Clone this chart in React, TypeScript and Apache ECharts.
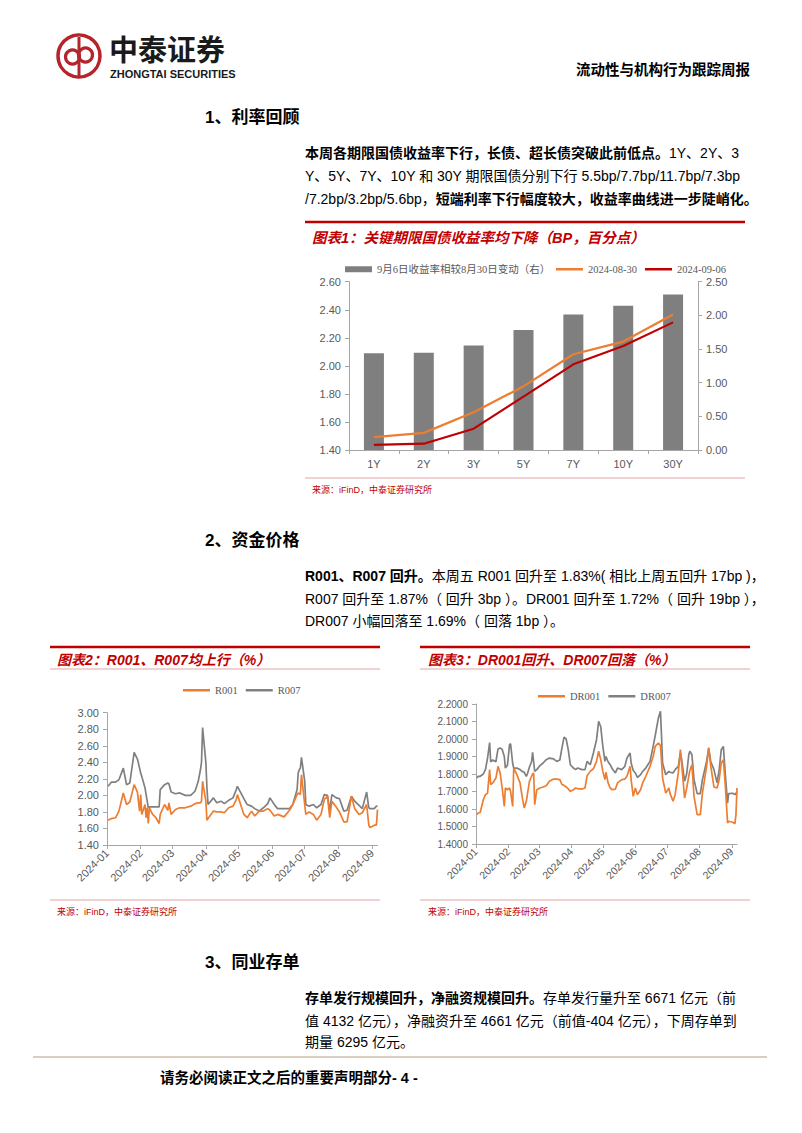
import React, { useEffect, useRef } from "react";
import * as echarts from "echarts";

// ---------- Chart 1 data ----------
const tenors = ["1Y", "2Y", "3Y", "5Y", "7Y", "10Y", "30Y"];
const barRight = [1.437, 1.445, 1.552, 1.781, 2.011, 2.141, 2.31];
const yield0830 = [1.492, 1.522, 1.669, 1.854, 2.083, 2.173, 2.366];
const yield0906 = [1.437, 1.445, 1.552, 1.781, 2.011, 2.141, 2.31];
const leftTicks = { min: 1.4, max: 2.6, interval: 0.2 };
const rightTicks = { min: 0, max: 2.5, interval: 0.5 };

// ---------- Chart 2 data (R001 / R007) ----------
const repoDates = [
  "01-02", "01-05", "01-09", "01-12", "01-16", "01-19", "01-22", "01-26", "01-29", "01-31",
  "02-01", "02-02", "02-05", "02-06", "02-07", "02-08", "02-09", "02-12", "02-15", "02-18",
  "02-19", "02-23", "02-26", "02-27", "02-29", "03-04", "03-08", "03-13", "03-18", "03-22",
  "03-25", "03-27", "03-28", "03-29", "04-01", "04-02", "04-03", "04-08", "04-11", "04-15",
  "04-18", "04-22", "04-26", "04-29", "04-30", "05-06", "05-09", "05-13", "05-16", "05-20",
  "05-24", "05-28", "05-30", "06-03", "06-06", "06-12", "06-17", "06-20", "06-24", "06-25",
  "06-26", "06-27", "06-28", "07-01", "07-02", "07-05", "07-09", "07-12", "07-16", "07-19",
  "07-22", "07-24", "07-26", "07-30", "08-02", "08-06", "08-09", "08-13", "08-16", "08-20",
  "08-23", "08-27", "08-29", "08-30", "09-03", "09-05", "09-06",
];
const r001 = [
  1.70, 1.72, 1.73, 1.81, 2.03, 1.89, 1.92, 2.13, 2.04, 1.81,
  2.01, 1.77, 1.89, 1.73, 1.85, 1.66, 1.85, 1.77, 1.73, 1.66,
  1.77, 1.89, 1.82, 1.91, 1.77, 1.83, 1.85, 1.85, 1.87, 1.90,
  1.91, 1.91, 1.93, 2.17, 1.93, 1.70, 1.72, 1.81, 1.80, 1.80,
  1.79, 1.85, 1.87, 1.95, 2.01, 1.77, 1.73, 1.81, 1.75, 1.81,
  1.81, 1.84, 1.82, 1.75, 1.77, 1.74, 1.82, 1.89, 2.01, 2.03,
  2.02, 2.01, 2.25, 1.89, 1.77, 1.80, 1.77, 1.70, 1.77, 1.95,
  1.99, 1.73, 1.93, 1.86, 1.80, 1.68, 1.68, 1.99, 1.84, 1.77,
  1.79, 1.89, 1.64, 1.61, 1.64, 1.64, 1.83,
];
const r007 = [
  2.11, 2.16, 2.16, 2.19, 2.33, 2.13, 2.15, 2.52, 2.44, 2.33,
  2.27, 2.23, 2.09, 2.01, 1.93, 1.85, 1.86, 1.86, 1.86, 1.86,
  2.07, 2.13, 2.15, 2.14, 2.04, 2.02, 2.03, 2.00, 2.00, 2.05,
  2.17, 2.31, 2.40, 2.82, 2.40, 2.09, 1.89, 1.97, 1.91, 1.93,
  1.90, 1.94, 1.97, 2.07, 2.11, 1.96, 1.89, 1.87, 1.84, 1.81,
  1.85, 1.90, 1.97, 1.89, 1.84, 1.84, 1.84, 1.89, 2.07, 2.27,
  2.31, 2.33, 2.46, 2.17, 1.89, 1.87, 1.89, 1.85, 1.89, 2.01,
  2.00, 1.81, 2.01, 1.97, 1.96, 1.81, 1.82, 1.99, 1.93, 1.88,
  1.84, 2.04, 1.85, 1.84, 1.84, 1.87, 1.87,
];
const repoTicks = { min: 1.4, max: 3.0, interval: 0.2 };

// ---------- Chart 3 data (DR001 / DR007) ----------
const drDates = [
  "01-02", "01-03", "01-05", "01-08", "01-10", "01-12", "01-14", "01-15", "01-17", "01-20",
  "01-22", "01-24", "01-26", "01-28", "01-29", "01-31", "02-02", "02-03", "02-05", "02-06",
  "02-09", "02-12", "02-14", "02-16", "02-18", "02-19", "02-21", "02-23", "02-24", "02-25",
  "02-26", "02-28", "03-02", "03-05", "03-08", "03-11", "03-15", "03-18", "03-21", "03-23",
  "03-25", "03-27", "03-29", "03-31", "04-03", "04-05", "04-07", "04-11", "04-14", "04-16",
  "04-19", "04-22", "04-25", "04-27", "04-29", "05-01", "05-03", "05-04", "05-06", "05-08",
  "05-10", "05-13", "05-15", "05-19", "05-22", "05-24", "05-27", "05-28", "05-30", "06-01",
  "06-03", "06-06", "06-08", "06-11", "06-15", "06-18", "06-20", "06-23", "06-25", "06-26",
  "06-27", "06-30", "07-03", "07-04", "07-07", "07-09", "07-12", "07-14", "07-15", "07-18",
  "07-20", "07-22", "07-23", "07-25", "07-27", "07-30", "08-02", "08-04", "08-08", "08-10",
  "08-12", "08-15", "08-18", "08-20", "08-22", "08-24", "08-26", "08-28", "08-29", "09-02",
  "09-04", "09-05", "09-06",
];
const dr001 = [
  1.568, 1.577, 1.58, 1.653, 1.682, 1.69, 1.825, 1.739, 1.749, 1.777,
  1.844, 1.806, 1.72, 1.615, 1.72, 1.71, 1.72, 1.70, 1.615, 1.834,
  1.796, 1.749, 1.672, 1.606, 1.644, 1.682, 1.758, 1.787, 1.80, 1.806,
  1.625, 1.71, 1.72, 1.726, 1.733, 1.758, 1.771, 1.771, 1.768, 1.74,
  1.735, 1.726, 1.715, 1.701, 1.71, 1.72, 1.716, 1.714, 1.72, 1.79,
  1.815, 1.83, 1.872, 1.93, 1.882, 1.815, 1.768, 1.81, 1.749, 1.72,
  1.71, 1.714, 1.749, 1.768, 1.771, 1.787, 1.844, 1.768, 1.672, 1.72,
  1.682, 1.71, 1.749, 1.787, 1.844, 1.90, 1.958, 1.977, 1.962, 1.872,
  1.777, 1.691, 1.72, 1.691, 1.644, 1.682, 1.806, 1.939, 1.872, 1.663,
  1.72, 1.787, 1.82, 1.853, 1.672, 1.568, 1.568, 1.691, 1.844, 1.949,
  1.844, 1.726, 1.72, 1.768, 1.863, 1.882, 1.72, 1.52, 1.53, 1.524,
  1.516, 1.568, 1.72,
];
const dr007 = [
  1.777, 1.787, 1.787, 1.80, 1.825, 1.89, 1.98, 1.87, 1.88, 1.87,
  1.943, 1.949, 1.94, 1.90, 1.834, 1.85, 1.968, 1.973, 1.86, 1.834,
  1.834, 1.825, 1.815, 1.81, 1.787, 1.80, 1.84, 1.87, 1.924, 1.87,
  1.815, 1.825, 1.848, 1.863, 1.882, 1.891, 1.886, 1.872, 1.88, 1.949,
  2.011, 2.00, 1.939, 1.853, 1.834, 1.825, 1.834, 1.825, 1.825, 1.872,
  1.853, 1.92, 1.996, 2.101, 2.07, 1.958, 1.872, 1.90, 1.87, 1.853,
  1.83, 1.806, 1.834, 1.825, 1.844, 1.891, 1.92, 1.863, 1.82, 1.806,
  1.78, 1.796, 1.815, 1.834, 1.872, 1.958, 2.02, 2.12, 2.158, 2.015,
  1.863, 1.796, 1.815, 1.81, 1.806, 1.825, 1.844, 1.92, 1.891, 1.758,
  1.80, 1.91, 1.93, 1.91, 1.768, 1.688, 1.688, 1.768, 1.872, 1.949,
  1.87, 1.825, 1.749, 1.825, 1.939, 1.958, 1.787, 1.634, 1.688, 1.69,
  1.682, 1.69, 1.70,
];
const drTicks = { min: 1.4, max: 2.2, interval: 0.1 };

const yearPrefix = "2024-";
const axisStart = "01-01";
const axisEnd = "09-06";
const monthStarts = ["01-01", "02-01", "03-01", "04-01", "05-01", "06-01", "07-01", "08-01", "09-01"];

// ---------- Texts ----------
const barName = "9月6日收益率相较8月30日变动（右）";
const sourceText = "来源：iFinD，中泰证券研究所";

const SANS = "'Liberation Sans', Arial, 'Noto Sans CJK SC', sans-serif";
const SERIF = "'Liberation Serif', 'Times New Roman', 'Noto Sans CJK SC', serif";
const RED = "#C00000";
const PINK = "#E3A3A3";
const AXIS = "#A6A6A6";
const LABEL = "#595959";
const ORANGE = "#ED7D31";
const GRAY = "#808080";
const DARKRED = "#C00000";

const ts = (md: string) => new Date(`${yearPrefix}${md}T00:00:00`).getTime();
const fmtMonth = (v: number) => {
  const d = new Date(v);
  return `${d.getFullYear()}-${String(d.getMonth() + 1).padStart(2, "0")}`;
};

function txt(x: number, y: number, text: string, style: any = {}) {
  return {
    type: "text",
    x,
    y,
    silent: true,
    style: {
      text,
      fontFamily: SANS,
      fontSize: 14,
      fill: "#000",
      verticalAlign: "middle",
      align: "left",
      ...style,
    },
  };
}
function rich(x: number, y: number, parts: [string, string][], size = 14) {
  const text = parts.map(([k, s]) => `{${k}|${s}}`).join("");
  return {
    type: "text",
    x,
    y,
    silent: true,
    style: {
      text,
      verticalAlign: "middle",
      align: "left",
      rich: {
        b: { fontFamily: SANS, fontSize: size, fontWeight: "bold", fill: "#000" },
        n: { fontFamily: SANS, fontSize: size, fill: "#000" },
      },
    },
  };
}
function hline(x1: number, x2: number, y: number, stroke: string, w: number) {
  return { type: "line", silent: true, shape: { x1, y1: y, x2, y2: y }, style: { stroke, lineWidth: w } };
}

function timeXAxis(gridIndex: number, fontSize: number) {
  return {
    type: "value",
    gridIndex,
    min: ts(axisStart),
    max: ts(axisEnd),
    axisLine: { show: true, lineStyle: { color: AXIS, width: 1 } },
    axisTick: { show: true, length: 4, lineStyle: { color: AXIS }, customValues: monthStarts.map(ts) },
    axisLabel: {
      rotate: 45,
      margin: 6,
      fontSize,
      color: LABEL,
      fontFamily: SANS,
      customValues: monthStarts.map(ts),
      formatter: (v: number) => fmtMonth(v),
    },
    splitLine: { show: false },
  };
}
function valYAxis(gridIndex: number, t: any, decimals: number, fontSize: number, position = "left") {
  return {
    type: "value",
    gridIndex,
    position,
    min: t.min,
    max: t.max,
    interval: t.interval,
    axisLine: { show: true, lineStyle: { color: AXIS, width: 1 } },
    axisTick: { show: true, length: 4, lineStyle: { color: AXIS } },
    axisLabel: {
      fontSize,
      color: LABEL,
      fontFamily: SANS,
      margin: 8,
      formatter: (v: number) => v.toFixed(decimals),
    },
    splitLine: { show: false },
  };
}

export default function App() {
  const ref = useRef<HTMLDivElement>(null);
  useEffect(() => {
    if (!ref.current) return;
    const chart = echarts.init(ref.current, undefined, { renderer: "svg" });

    const elements: any[] = [
      // logo
      { type: "circle", silent: true, shape: { cx: 79, cy: 56, r: 21 }, style: { fill: "none", stroke: "#B5232B", lineWidth: 3.5 } },
      { type: "circle", silent: true, shape: { cx: 72.5, cy: 57, r: 7 }, style: { fill: "none", stroke: "#B5232B", lineWidth: 3.2 } },
      { type: "circle", silent: true, shape: { cx: 85.5, cy: 55, r: 7 }, style: { fill: "none", stroke: "#B5232B", lineWidth: 3.2 } },
      { type: "line", silent: true, shape: { x1: 79, y1: 37, x2: 79, y2: 76 }, style: { stroke: "#B5232B", lineWidth: 3 } },
      txt(109, 48, "中泰证券", { fontSize: 29, lineHeight: 29, fontWeight: "bold", fill: "#1a1a1a", fontFamily: "'Noto Sans CJK SC', sans-serif" }),
      txt(110, 74, "ZHONGTAI SECURITIES", { fontSize: 11, lineHeight: 11, fontWeight: "bold", fill: "#1a1a1a" }),
      txt(750, 70, "流动性与机构行为跟踪周报", { fontSize: 14.5, fontWeight: "bold", align: "right" }),

      // section 1
      txt(205, 117, "1、利率回顾", { fontSize: 17, fontWeight: "bold" }),
      rich(305, 153, [["b", "本周各期限国债收益率下行，长债、超长债突破此前低点。"], ["n", "1Y、2Y、3"]]),
      rich(305, 176, [["n", "Y、5Y、7Y、10Y 和 30Y 期限国债分别下行 5.5bp/7.7bp/11.7bp/7.3bp"]]),
      rich(305, 199, [["n", "/7.2bp/3.2bp/5.6bp，"], ["b", "短端利率下行幅度较大，收益率曲线进一步陡峭化。"]]),

      // chart 1 frame
      hline(305, 745, 222, RED, 2.5),
      txt(312, 238, "图表1：关键期限国债收益率均下降（BP，百分点）", { fontSize: 14.5, fontWeight: "bold", fontStyle: "italic", fill: RED }),
      hline(305, 745, 478, PINK, 1.2),
      txt(312, 490, sourceText, { fontSize: 9, fill: RED }),

      // section 2
      txt(205, 540, "2、资金价格", { fontSize: 17, fontWeight: "bold" }),
      rich(305, 576, [["b", "R001、R007 回升。"], ["n", "本周五 R001 回升至 1.83%( 相比上周五回升 17bp )，"]]),
      rich(305, 599, [["n", "R007 回升至 1.87%（ 回升 3bp ）。DR001 回升至 1.72%（ 回升 19bp ），"]]),
      rich(305, 621, [["n", "DR007 小幅回落至 1.69%（ 回落 1bp ）。"]]),

      // chart 2 frame
      hline(50, 380, 647, RED, 2.5),
      txt(57, 660, "图表2：R001、R007均上行（%）", { fontSize: 14, fontWeight: "bold", fontStyle: "italic", fill: RED }),
      hline(50, 380, 669, PINK, 1),
      hline(50, 380, 900, PINK, 1.2),
      txt(57, 912, sourceText, { fontSize: 9, fill: RED }),

      // chart 3 frame
      hline(420, 750, 647, RED, 2.5),
      txt(428, 660, "图表3：DR001回升、DR007回落（%）", { fontSize: 14, fontWeight: "bold", fontStyle: "italic", fill: RED }),
      hline(420, 750, 669, PINK, 1),
      hline(420, 750, 900, PINK, 1.2),
      txt(428, 912, sourceText, { fontSize: 9, fill: RED }),

      // section 3
      txt(205, 962, "3、同业存单", { fontSize: 17, fontWeight: "bold" }),
      rich(305, 998, [["b", "存单发行规模回升，净融资规模回升。"], ["n", "存单发行量升至 6671 亿元（前"]]),
      rich(305, 1021, [["n", "值 4132 亿元），净融资升至 4661 亿元（前值-404 亿元），下周存单到"]]),
      rich(305, 1042, [["n", "期量 6295 亿元。"]]),

      // footer
      hline(33, 767, 1057, "#D9CEC0", 2),
      txt(160, 1078, "请务必阅读正文之后的重要声明部分- 4 -", { fontSize: 14.5, fontWeight: "bold" }),
    ];

    const legendText = { fontFamily: SERIF, fontSize: 10.5, color: LABEL };
    const lineLegend = (left: number, top: number, names: string[]) => ({
      left, top, itemWidth: 27, itemHeight: 2.5, itemGap: 8, icon: "rect",
      textStyle: legendText, data: names,
    });

    const option: any = {
      animation: false,
      backgroundColor: "#ffffff",
      textStyle: { fontFamily: SANS },
      grid: [
        { left: 349, top: 281.7, width: 349, height: 168.3 },
        { left: 107, top: 712.7, width: 270.5, height: 132.3 },
        { left: 476, top: 704, width: 261, height: 140 },
      ],
      legend: [
        {
          left: 340, top: 259, itemWidth: 27, itemHeight: 6, icon: "rect",
          textStyle: legendText, data: [barName],
        },
        lineLegend(551, 259, ["2024-08-30", "2024-09-06"]),
        lineLegend(178, 680, ["R001", "R007"]),
        lineLegend(533, 686, ["DR001", "DR007"]),
      ],
      xAxis: [
        {
          type: "category",
          gridIndex: 0,
          data: tenors,
          axisLine: { show: true, lineStyle: { color: AXIS } },
          axisTick: { show: true, length: 4, alignWithLabel: false, lineStyle: { color: AXIS } },
          axisLabel: { fontSize: 11, color: LABEL, fontFamily: SANS, margin: 8 },
        },
        timeXAxis(1, 11),
        timeXAxis(2, 10.5),
      ],
      yAxis: [
        valYAxis(0, leftTicks, 2, 11, "left"),
        valYAxis(0, rightTicks, 2, 11, "right"),
        valYAxis(1, repoTicks, 2, 11, "left"),
        valYAxis(2, drTicks, 4, 10, "left"),
      ],
      series: [
        {
          name: barName, type: "bar", xAxisIndex: 0, yAxisIndex: 1,
          data: barRight, barWidth: 20, itemStyle: { color: "#7F7F7F" },
        },
        {
          name: "2024-08-30", type: "line", xAxisIndex: 0, yAxisIndex: 0,
          data: yield0830, symbol: "none", lineStyle: { color: ORANGE, width: 2.2 }, itemStyle: { color: ORANGE }, z: 3,
        },
        {
          name: "2024-09-06", type: "line", xAxisIndex: 0, yAxisIndex: 0,
          data: yield0906, symbol: "none", lineStyle: { color: DARKRED, width: 2.2 }, itemStyle: { color: DARKRED }, z: 4,
        },
        {
          name: "R001", type: "line", xAxisIndex: 1, yAxisIndex: 2,
          data: repoDates.map((d, i) => [ts(d), r001[i]]),
          symbol: "none", lineStyle: { color: ORANGE, width: 1.7 }, itemStyle: { color: ORANGE }, z: 3,
        },
        {
          name: "R007", type: "line", xAxisIndex: 1, yAxisIndex: 2,
          data: repoDates.map((d, i) => [ts(d), r007[i]]),
          symbol: "none", lineStyle: { color: GRAY, width: 1.7 }, itemStyle: { color: GRAY }, z: 2,
        },
        {
          name: "DR001", type: "line", xAxisIndex: 2, yAxisIndex: 3,
          data: drDates.map((d, i) => [ts(d), dr001[i]]),
          symbol: "none", lineStyle: { color: ORANGE, width: 1.7 }, itemStyle: { color: ORANGE }, z: 3,
        },
        {
          name: "DR007", type: "line", xAxisIndex: 2, yAxisIndex: 3,
          data: drDates.map((d, i) => [ts(d), dr007[i]]),
          symbol: "none", lineStyle: { color: GRAY, width: 1.7 }, itemStyle: { color: GRAY }, z: 2,
        },
      ],
      graphic: { elements },
    };
    chart.setOption(option);
    return () => chart.dispose();
  }, []);

  return (
    <div
      ref={ref}
      style={{ position: "fixed", left: 0, top: 0, width: 802, height: 1133, background: "#fff" }}
    />
  );
}
